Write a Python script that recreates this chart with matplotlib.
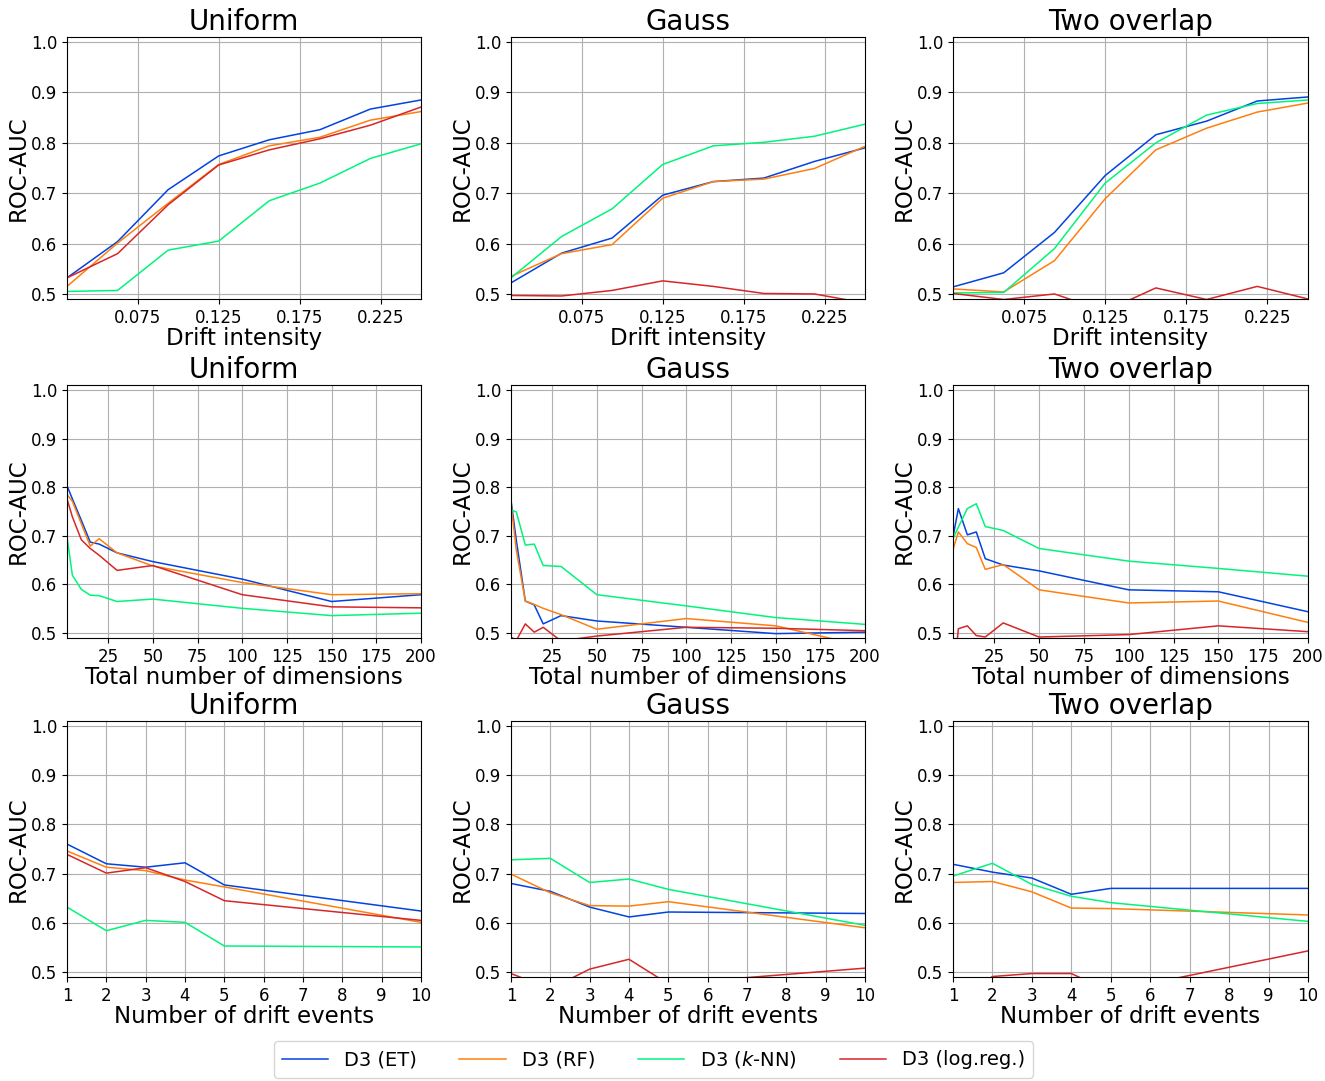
import matplotlib
matplotlib.use('Agg')
import matplotlib.pyplot as plt

# x values of the three experiments
intensity = [0.03125, 0.0625, 0.09375, 0.125, 0.15625, 0.1875, 0.21875, 0.25]
dims = [2, 5, 10, 15, 20, 30, 50, 100, 150, 200]
events = [1, 2, 3, 4, 5, 10]

datasets = ['Uniform', 'Gauss', 'Two overlap']
labels = ['D3 (ET)', 'D3 (RF)', 'D3 ($k$-NN)', 'D3 (log.reg.)']
colors = ['#0343df', '#ff7f0e', '#00f57a', '#d62728']

# ROC-AUC against drift intensity: ET, RF, k-NN, log.reg.
uni_int = [[0.532, 0.604, 0.707, 0.774, 0.806, 0.826, 0.867, 0.885],
           [0.515, 0.601, 0.680, 0.757, 0.794, 0.811, 0.845, 0.862],
           [0.505, 0.507, 0.587, 0.605, 0.685, 0.720, 0.769, 0.798],
           [0.532, 0.580, 0.677, 0.756, 0.786, 0.808, 0.835, 0.871]]
gauss_int = [[0.522, 0.581, 0.611, 0.696, 0.723, 0.730, 0.763, 0.790],
             [0.535, 0.580, 0.598, 0.690, 0.723, 0.728, 0.749, 0.793],
             [0.532, 0.614, 0.669, 0.757, 0.794, 0.801, 0.813, 0.837],
             [0.497, 0.496, 0.507, 0.526, 0.515, 0.501, 0.500, 0.482]]
two_int = [[0.514, 0.542, 0.622, 0.735, 0.816, 0.843, 0.883, 0.891],
           [0.510, 0.504, 0.566, 0.689, 0.786, 0.829, 0.861, 0.879],
           [0.502, 0.503, 0.590, 0.720, 0.800, 0.855, 0.878, 0.885],
           [0.501, 0.489, 0.500, 0.466, 0.512, 0.489, 0.515, 0.490]]

# ROC-AUC against total number of dimensions
uni_dim = [[0.803, 0.776, 0.732, 0.687, 0.683, 0.665, 0.647, 0.611, 0.565, 0.579],
           [0.785, 0.771, 0.725, 0.679, 0.694, 0.665, 0.638, 0.604, 0.579, 0.581],
           [0.698, 0.619, 0.590, 0.578, 0.577, 0.565, 0.570, 0.551, 0.536, 0.541],
           [0.776, 0.739, 0.692, 0.674, 0.660, 0.629, 0.639, 0.579, 0.554, 0.552]]
gauss_dim = [[0.773, 0.690, 0.566, 0.558, 0.519, 0.536, 0.525, 0.512, 0.499, 0.502],
             [0.766, 0.670, 0.566, 0.559, 0.551, 0.538, 0.508, 0.530, 0.515, 0.473],
             [0.753, 0.749, 0.681, 0.683, 0.639, 0.637, 0.579, 0.556, 0.532, 0.518],
             [0.492, 0.485, 0.519, 0.502, 0.512, 0.484, 0.494, 0.512, 0.510, 0.505]]
two_dim = [[0.698, 0.756, 0.702, 0.708, 0.653, 0.640, 0.628, 0.589, 0.585, 0.544],
           [0.672, 0.708, 0.684, 0.676, 0.631, 0.641, 0.589, 0.562, 0.566, 0.522],
           [0.694, 0.718, 0.756, 0.766, 0.719, 0.711, 0.674, 0.648, 0.633, 0.617],
           [0.400, 0.509, 0.515, 0.495, 0.492, 0.521, 0.492, 0.497, 0.515, 0.503]]

# ROC-AUC against number of drift events
uni_ev = [[0.760, 0.720, 0.713, 0.722, 0.677, 0.624],
          [0.746, 0.713, 0.706, 0.687, 0.673, 0.601],
          [0.632, 0.584, 0.605, 0.601, 0.553, 0.551],
          [0.739, 0.701, 0.712, 0.684, 0.645, 0.605]]
gauss_ev = [[0.680, 0.664, 0.632, 0.612, 0.622, 0.619],
            [0.699, 0.661, 0.635, 0.634, 0.643, 0.590],
            [0.728, 0.731, 0.682, 0.689, 0.668, 0.595],
            [0.497, 0.466, 0.506, 0.526, 0.476, 0.508]]
two_ev = [[0.719, 0.703, 0.691, 0.658, 0.670, 0.670],
          [0.682, 0.684, 0.663, 0.630, 0.629, 0.616],
          [0.695, 0.721, 0.678, 0.654, 0.641, 0.603],
          [0.440, 0.491, 0.497, 0.497, 0.460, 0.543]]

rows = [
    (intensity, [uni_int, gauss_int, two_int], 'Drift intensity',
     [0.075, 0.125, 0.175, 0.225], (0.03125, 0.25)),
    (dims, [uni_dim, gauss_dim, two_dim], 'Total number of dimensions',
     [25, 50, 75, 100, 125, 150, 175, 200], (2, 200)),
    (events, [uni_ev, gauss_ev, two_ev], 'Number of drift events',
     list(range(1, 11)), (1, 10)),
]

W, H = 1325, 1081
row_px = [(37, 299), (385, 638), (721, 977)]
col_px = [(67, 421), (511, 865), (953, 1308)]

fig, axes = plt.subplots(3, 3, figsize=(13.25, 10.81), dpi=100)

for r, (xs, series, xlabel, xticks, xlim) in enumerate(rows):
    for c in range(3):
        ax = axes[r][c]
        x0, x1 = col_px[c]
        y0, y1 = row_px[r]
        ax.set_position([x0 / W, 1 - y1 / H, (x1 - x0) / W, (y1 - y0) / H])
        for vals, lab, col in zip(series[c], labels, colors):
            ax.plot(xs, vals, color=col, linewidth=1.1, label=lab)
        ax.set_title(datasets[c], fontsize=20, pad=5)
        ax.set_xlabel(xlabel, fontsize=16.5, labelpad=0)
        ax.set_ylabel('ROC-AUC', fontsize=16.5, labelpad=1)
        ax.set_xlim(*xlim)
        ax.set_ylim(0.49, 1.01)
        ax.set_xticks(xticks)
        ax.set_yticks([0.5, 0.6, 0.7, 0.8, 0.9, 1.0])
        ax.tick_params(labelsize=12)
        ax.grid(True)

handles, labs = axes[0][0].get_legend_handles_labels()
fig.legend(handles, labs, loc='lower center', bbox_to_anchor=(0.493, -0.006),
           ncol=4, fontsize=14, handlelength=2.4, columnspacing=2.2)

plt.savefig('out.png')
